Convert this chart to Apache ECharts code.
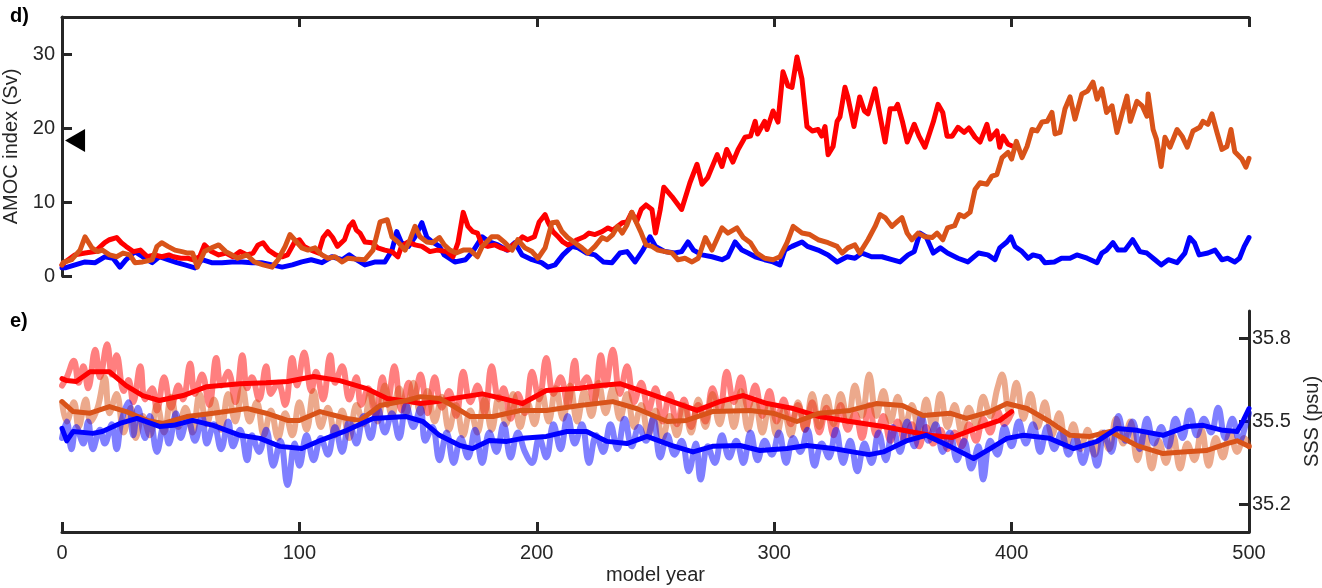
<!DOCTYPE html>
<html><head><meta charset="utf-8">
<script src="https://cdn.jsdelivr.net/npm/echarts@6/dist/echarts.min.js"></script>
<style>html,body{margin:0;padding:0;background:#fff}#c{width:1322px;height:588px}</style>
</head><body><div id="c"></div>
<script>
const xTicks = [0, 100, 200, 300, 400, 500];
const amocTicks = [0, 10, 20, 30];
const sssTicks = [35.2, 35.5, 35.8];
const amocRef = [[5.5, 18.3]];

// ---- panel d: AMOC index (Sv) ----
const amocBlue = [[0,1.1],[1.3,1.1],[5.5,1.5],[9.7,1.9],[14,1.8],[18,2.6],[21.5,2.4],[24.4,1.2],[27,2.2],[30.7,3.3],[34,2.6],[38,1.8],[41,2.6],[44.6,2.2],[48.4,1.8],[51.8,1.5],[56,1.1],[59,2.2],[63,1.8],[67.4,1.8],[71.6,1.9],[75.8,1.9],[80,1.8],[84,1.8],[88.5,1.5],[92.7,1.2],[97,1.5],[101,1.9],[105,2.2],[109.5,1.8],[113.7,2.6],[118,2.2],[121,2.85],[124,2.2],[127.6,1.5],[132,1.9],[136,1.9],[139,3.5],[141,6],[143,4.5],[146,4],[148.7,5.3],[151.6,7.2],[153.7,5.2],[156,4.6],[159,4],[161,2.85],[165.5,1.9],[170,2.2],[173,3.3],[177,5.3],[180,4.6],[183.6,4.2],[187.4,3.5],[190.8,4.5],[193.8,2.85],[198,2.2],[202,1.8],[204.7,1.2],[207.7,1.5],[211,2.85],[214.8,4],[217.4,3.8],[221,3.1],[224.5,2.85],[228,1.9],[231.7,1.8],[235,3.1],[238,3.3],[241.4,1.9],[244.7,3.5],[247.7,5.3],[250,4],[254,3.3],[258,3.1],[261,3.3],[263.7,4.6],[266,3.5],[269.6,2.85],[273.8,2.6],[278,2.2],[280.5,2.6],[283.5,4.6],[286.4,3.5],[289,3.1],[292,2.6],[296,2.2],[299.5,1.9],[302.4,1.5],[304.5,3.5],[307.5,4],[311.7,4.6],[314,4],[318.5,3.5],[322.7,2.85],[326.5,1.9],[330.7,2.6],[334,2.4],[337,3.1],[341,2.6],[345.4,2.6],[349.6,2.2],[353,1.9],[356.4,2.85],[359,3.3],[361.4,5.8],[364,5.3],[367,3.1],[370,3.8],[373,3.1],[377.4,2.4],[381.6,1.9],[386,3.1],[390,2.85],[393,2.2],[395,3.8],[398,4.6],[399.7,5.3],[401.4,4],[404.4,3.3],[407,2.4],[409,2.85],[412,2.6],[414,1.8],[418,1.9],[421,2.4],[424.6,2.4],[427.5,2.85],[431.8,2.4],[436,1.8],[438,3.1],[440,3.5],[442.7,4.5],[444.8,3.5],[447.8,3.5],[451,4.9],[454,3.3],[457,3.1],[460.4,2.2],[463,1.5],[466,2.2],[469.7,1.8],[473,3.1],[475,5.2],[477,4.5],[479,2.85],[482.7,3.1],[485.7,3.5],[488.6,2.2],[491,2.4],[494,1.9],[496,2.4],[498,4],[500,5.2]];

const amocRed = [[0,1.5],[1.3,1.9],[5.5,2.85],[9.7,3.1],[13.9,3.3],[18,4.5],[20,4.9],[23,5.2],[25,4.5],[27,4],[30,3.3],[33,3.5],[36,2.6],[39,2.85],[42,2.6],[45,2.85],[47,2.6],[50,2.4],[53,2.4],[55,2.2],[58,2.6],[60,4.2],[63,3.3],[66,2.85],[69,3.1],[72,2.6],[75,3.3],[78,2.85],[80.5,3.1],[82.6,4.2],[84.7,4.5],[87,3.5],[90,2.85],[92.7,2.6],[95,2.85],[98,4.6],[100,4.9],[102,4],[105,3.5],[108,3.1],[110,5.2],[112,6],[114,5.2],[116,4],[119,4.9],[121,6.7],[122.6,7.3],[124,6.2],[125.5,5.8],[127.6,4.6],[130.6,4.5],[133,3.8],[136,3.5],[139,3.3],[141.5,2.6],[143,4],[145.7,4.6],[148.7,4.2],[151.6,4],[155,3.3],[158,3.5],[162,3.3],[164.7,2.6],[166.8,4.5],[169,8.6],[171,6.7],[173,6],[175,5.8],[177,4.2],[179.4,4],[182.4,4.2],[185,3.8],[188,3.5],[190,4.2],[192,4.6],[194,5.3],[196,4.9],[199,5.3],[201,7.3],[203.5,8.3],[204.7,7.3],[206.8,6],[209,5.3],[211,4.6],[213,4.2],[215,4.5],[217,4.9],[220,5.3],[222,5.8],[224.5,5.6],[227.5,6],[230,6.5],[232,6.2],[234,6.7],[236,7.2],[238,7.3],[240,8.6],[242,7.3],[244,9],[246,9.6],[248.5,9],[250,5.8],[252,9],[253.5,12],[257,10.7],[261,9],[264.5,12.6],[267.5,15.1],[269.6,12.4],[272,13.3],[276,16.4],[278,14.8],[280,17.1],[282.6,15.4],[284.8,17.1],[287.7,18.75],[290,18.9],[292,20.9],[293,19.2],[296,20.9],[297,19.8],[299.5,22.3],[301.6,20.8],[303.7,27.6],[305.8,25.7],[307.5,25.5],[309.6,29.6],[311.7,26.6],[313.8,20.2],[316,19.6],[318.5,19.8],[320,18.9],[321.4,20.2],[322.7,16.4],[324.8,17.5],[326.5,20.9],[327.7,21.5],[329.8,25.5],[331,24.2],[333.6,20.2],[336,24.2],[338,22.3],[339.5,21.9],[342.5,25.3],[344.6,21.6],[346.7,18.1],[348.8,22.6],[351,22.6],[352,23.2],[354,20.9],[356,18.1],[359,20.5],[361,18.9],[363.5,17.4],[367,20.8],[369,23.2],[371,22.1],[372.8,18.9],[375,18.9],[377.4,20.1],[380,19.4],[382,20],[384.6,18.75],[386.7,18.1],[389.6,20.5],[391,18.5],[393.8,19.6],[395,17.4],[396.4,18.9],[398.5,17.8],[400,17.6]];

const amocOrange = [[0,1.5],[0.4,1.8],[4,2.2],[7.6,3.5],[9.7,5.3],[12.6,3.8],[15,3.3],[17,3.5],[20,2.85],[23,2.6],[25.7,3.1],[28.6,2.85],[30.7,1.8],[34,1.9],[38,2.2],[40,4],[42,4.5],[44.6,4],[47.6,3.5],[50.5,3.3],[53,3.1],[55,3.1],[57,1.2],[60,3.3],[63,3.8],[66,4.2],[69,3.3],[71.6,2.85],[74,2.4],[78,2.85],[81,1.9],[84.7,1.5],[88.5,1.2],[91,2.2],[94,4],[96,5.6],[98,4.9],[101,3.8],[103.6,3.5],[106.6,3.8],[109.5,2.85],[112,2.4],[115,2.6],[118,1.9],[120.5,2.4],[123.4,2.3],[127.6,2.2],[131,3.5],[134,7.3],[137,7.6],[139,5.3],[141.5,4.6],[144.5,3.5],[146.6,4.9],[148.7,6.7],[150.8,5.3],[153.7,4.6],[156,4.5],[159,5.2],[161,4.2],[163.4,3.5],[166,3.1],[169,3.5],[172,3.5],[175,2.6],[177,4],[181,5.3],[183.6,5.3],[186.6,4.5],[189.6,3.5],[192,4.9],[195,3.8],[198,3.3],[200.5,2.4],[203.5,3.8],[206.4,7.2],[208.5,7.3],[210.6,6],[213,5.2],[216,4.5],[219,3.8],[221.6,3.1],[224.5,4],[227.5,5.2],[229.6,4.9],[232,5.6],[234,6.7],[236,5.8],[238,6.9],[240,8.6],[242,7.2],[244,5.8],[246,4.2],[248.5,4],[251,3.5],[254,3.3],[257,3.1],[259.5,2.2],[262.4,2.4],[265.4,1.9],[268,2.4],[271,5.2],[273.8,3.5],[278,6.5],[280.5,5.8],[284.3,6.5],[287,5.2],[290,4.5],[292.7,3.1],[296,2.4],[299.5,2.2],[302.4,2.6],[305.4,4.5],[308,6.7],[311.7,5.8],[315,5.6],[318.5,4.9],[322.7,4.5],[326.5,4],[328.6,3.1],[331,3.8],[334,4.2],[336,3.1],[339.5,4.9],[342.5,6.7],[344.6,8.3],[346.7,7.9],[349.6,6.7],[351.7,7.3],[353.8,7.9],[356,5.8],[358,4.9],[360.6,5.8],[363.5,5.3],[366.5,5.2],[368.6,5.8],[371,4.9],[373,6.5],[376,6.8],[378,8.3],[380,8],[382.5,8.6],[384.6,11.7],[386.7,12.6],[389.6,12.4],[391.7,13.5],[393.8,13.7],[396,16],[398.5,16.7],[400,15.8],[402,18.2],[404.4,16],[406.5,17.5],[408.6,19.8],[410.7,19.6],[412.8,20.8],[415,20.9],[417,22.1],[418.3,19.2],[420.4,19.4],[422.5,22.6],[424.6,24.2],[426.7,21.2],[429.6,24.6],[432,25],[434.3,26.2],[436,23.9],[438,25.3],[440,22.1],[442.3,23],[444.4,19.4],[446.5,21.9],[448.6,24.3],[450,20.9],[452.8,23.6],[455,23],[457,21.6],[457.5,24.6],[459.6,19.8],[461,18.5],[463,14.8],[464.6,18.75],[466.7,17.4],[469.7,19.8],[471.8,18.9],[474,17.4],[476.4,19.6],[479.3,20.1],[480.6,20.9],[482.7,20.5],[484.4,21.9],[486.5,19.4],[488.6,17.1],[490.7,17.5],[492.4,19.8],[494,16.8],[497,15.8],[498.7,14.7],[500,15.9]];

// ---- panel e: SSS (psu), annual (light) ----
const sssRedRaw = [[0,35.63],[2,35.66],[5,35.72],[7,35.64],[9,35.70],[11,35.62],[14,35.76],[16,35.66],[19,35.78],[21,35.67],[23,35.74],[26,35.61],[28,35.65],[30,35.57],[33,35.70],[35,35.58],[38,35.62],[40,35.54],[43,35.66],[46,35.55],[49,35.63],[51,35.58],[54,35.71],[56,35.60],[59,35.67],[62,35.56],[65,35.73],[67,35.63],[70,35.68],[73,35.57],[76,35.74],[78,35.62],[80,35.66],[83,35.58],[86,35.70],[88,35.60],[91,35.64],[94,35.56],[97,35.73],[99,35.63],[102,35.75],[105,35.61],[107,35.68],[110,35.58],[113,35.74],[115,35.64],[118,35.70],[121,35.58],[124,35.66],[126,35.56],[129,35.62],[132,35.52],[135,35.66],[137,35.56],[140,35.70],[143,35.54],[146,35.64],[148,35.57],[151,35.67],[154,35.53],[157,35.66],[160,35.55],[163,35.61],[166,35.52],[169,35.68],[172,35.57],[175,35.63],[178,35.53],[181,35.70],[184,35.58],[186,35.62],[189,35.51],[192,35.60],[195,35.53],[198,35.68],[201,35.58],[204,35.73],[207,35.60],[210,35.66],[213,35.56],[216,35.72],[218,35.62],[221,35.66],[224,35.57],[227,35.74],[229,35.63],[232,35.76],[235,35.60],[238,35.70],[241,35.57],[244,35.64],[247,35.54],[250,35.62],[253,35.50],[256,35.60],[259,35.49],[262,35.58],[265,35.48],[268,35.56],[271,35.50],[274,35.62],[277,35.54],[280,35.68],[283,35.57],[286,35.66],[289,35.55],[292,35.63],[295,35.52],[298,35.61],[301,35.50],[304,35.58],[307,35.49],[310,35.56],[313,35.47],[316,35.57],[319,35.46],[322,35.55],[325,35.45],[328,35.56],[331,35.47],[334,35.53],[337,35.44],[340,35.56],[343,35.45],[346,35.52],[349,35.43],[352,35.50],[355,35.43],[358,35.49],[361,35.41],[364,35.48],[367,35.42],[370,35.47],[373,35.40],[376,35.46],[379,35.41],[382,35.49],[385,35.43],[388,35.51],[391,35.46],[394,35.54],[397,35.49],[400,35.53]];

const sssBlueRaw = [[0,35.44],[2,35.50],[4,35.40],[6,35.48],[9,35.42],[11,35.50],[13,35.40],[16,35.47],[18,35.42],[21,35.49],[23,35.40],[25,35.50],[28,35.57],[30,35.45],[32,35.55],[35,35.44],[37,35.52],[40,35.39],[43,35.49],[45,35.42],[48,35.53],[50,35.44],[53,35.51],[56,35.43],[59,35.52],[61,35.42],[64,35.49],[67,35.40],[70,35.50],[72,35.41],[75,35.47],[78,35.36],[80,35.45],[83,35.39],[86,35.47],[89,35.34],[92,35.43],[95,35.27],[98,35.42],[100,35.34],[103,35.45],[106,35.36],[109,35.44],[112,35.38],[115,35.48],[118,35.39],[121,35.50],[124,35.42],[127,35.52],[130,35.44],[133,35.55],[136,35.46],[139,35.53],[142,35.44],[145,35.56],[148,35.48],[151,35.55],[153,35.43],[156,35.48],[159,35.36],[162,35.46],[165,35.35],[168,35.44],[171,35.37],[174,35.47],[177,35.35],[180,35.46],[183,35.39],[186,35.49],[189,35.37],[192,35.46],[195,35.39],[198,35.35],[201,35.44],[204,35.37],[207,35.49],[210,35.40],[213,35.52],[216,35.42],[219,35.49],[222,35.35],[225,35.45],[228,35.39],[231,35.49],[234,35.40],[237,35.51],[240,35.41],[243,35.48],[246,35.43],[249,35.51],[252,35.37],[255,35.45],[258,35.38],[261,35.43],[264,35.32],[267,35.42],[269,35.29],[272,35.41],[275,35.35],[278,35.45],[281,35.37],[284,35.43],[287,35.35],[290,35.46],[293,35.36],[296,35.43],[299,35.38],[302,35.46],[305,35.35],[308,35.44],[311,35.39],[314,35.47],[317,35.34],[320,35.42],[323,35.37],[326,35.47],[329,35.35],[332,35.43],[335,35.32],[338,35.42],[341,35.35],[344,35.46],[347,35.36],[350,35.48],[353,35.39],[356,35.50],[359,35.41],[362,35.52],[365,35.43],[368,35.49],[371,35.39],[374,35.46],[377,35.36],[380,35.43],[383,35.33],[386,35.41],[388,35.29],[391,35.43],[394,35.38],[397,35.48],[400,35.41],[403,35.50],[406,35.42],[409,35.49],[412,35.39],[415,35.48],[418,35.40],[421,35.46],[424,35.38],[427,35.44],[430,35.35],[433,35.42],[436,35.34],[439,35.46],[442,35.39],[445,35.52],[448,35.43],[451,35.50],[454,35.40],[457,35.51],[460,35.42],[463,35.48],[466,35.41],[469,35.51],[472,35.44],[475,35.54],[478,35.45],[481,35.51],[484,35.46],[487,35.55],[490,35.44],[493,35.51],[496,35.43],[499,35.50],[500,35.53]];

const sssOrangeRaw = [[0,35.57],[2,35.50],[5,35.57],[7,35.48],[10,35.58],[12,35.50],[15,35.55],[18,35.66],[20,35.53],[23,35.60],[26,35.46],[29,35.55],[31,35.44],[34,35.52],[37,35.45],[40,35.56],[43,35.46],[46,35.59],[49,35.48],[52,35.55],[55,35.46],[58,35.60],[61,35.49],[64,35.58],[67,35.47],[70,35.60],[73,35.50],[76,35.62],[79,35.50],[82,35.57],[85,35.45],[88,35.54],[91,35.44],[94,35.53],[97,35.45],[100,35.57],[103,35.47],[106,35.61],[109,35.48],[112,35.55],[115,35.45],[118,35.54],[121,35.44],[124,35.56],[127,35.49],[130,35.61],[133,35.50],[136,35.63],[139,35.52],[142,35.62],[145,35.53],[148,35.64],[151,35.53],[154,35.61],[157,35.50],[160,35.59],[163,35.47],[166,35.56],[169,35.45],[172,35.54],[175,35.46],[178,35.58],[181,35.47],[184,35.59],[187,35.49],[190,35.60],[193,35.48],[196,35.57],[199,35.49],[202,35.61],[205,35.50],[208,35.62],[211,35.51],[214,35.63],[217,35.50],[220,35.61],[223,35.52],[226,35.64],[229,35.53],[232,35.62],[235,35.51],[238,35.60],[241,35.48],[244,35.56],[247,35.45],[250,35.54],[253,35.44],[256,35.52],[259,35.45],[262,35.56],[265,35.46],[268,35.58],[271,35.48],[274,35.60],[277,35.49],[280,35.58],[283,35.48],[286,35.61],[289,35.47],[292,35.57],[295,35.46],[298,35.56],[301,35.45],[304,35.54],[307,35.45],[310,35.57],[313,35.47],[316,35.60],[319,35.48],[322,35.59],[325,35.49],[328,35.60],[331,35.50],[334,35.63],[337,35.52],[340,35.67],[343,35.52],[346,35.61],[349,35.50],[352,35.59],[355,35.48],[358,35.56],[361,35.46],[364,35.58],[367,35.47],[370,35.60],[373,35.48],[376,35.56],[379,35.46],[382,35.55],[385,35.49],[388,35.59],[391,35.52],[394,35.62],[396,35.67],[399,35.53],[402,35.64],[405,35.51],[408,35.60],[411,35.48],[414,35.57],[417,35.45],[420,35.53],[423,35.41],[426,35.49],[429,35.40],[432,35.47],[435,35.38],[438,35.46],[441,35.40],[444,35.51],[447,35.42],[450,35.50],[453,35.36],[456,35.46],[459,35.33],[462,35.43],[465,35.35],[468,35.45],[471,35.33],[474,35.42],[477,35.36],[480,35.47],[483,35.34],[486,35.44],[489,35.37],[492,35.46],[495,35.39],[498,35.44],[500,35.41]];

// ---- panel e: SSS (psu), smoothed ----
const sssRedSmooth = [[0,35.655],[2,35.648],[6,35.645],[11.8,35.68],[20,35.68],[27,35.63],[34,35.594],[41,35.576],[51,35.594],[61,35.626],[75,35.637],[86,35.64],[95,35.645],[106,35.663],[117,35.648],[128,35.62],[137,35.583],[146.6,35.572],[151,35.565],[158,35.572],[164.7,35.583],[177,35.6],[185.8,35.583],[194,35.565],[204,35.612],[218,35.62],[226.6,35.63],[235,35.637],[247.7,35.6],[257,35.572],[267.5,35.54],[277,35.572],[287,35.594],[297,35.565],[308,35.547],[319,35.518],[332,35.5],[346,35.482],[357,35.464],[365.6,35.45],[375,35.442],[385,35.475],[395,35.504],[400,35.536]];
const sssOrangeSmooth = [[0,35.572],[4.7,35.536],[11.8,35.53],[20,35.554],[27,35.536],[35.7,35.504],[42.6,35.493],[52.6,35.518],[63.7,35.53],[78,35.547],[86,35.53],[95,35.504],[100,35.504],[108.7,35.536],[120,35.511],[125.5,35.504],[134,35.558],[145,35.576],[151,35.59],[159,35.583],[165,35.555],[172,35.518],[181.6,35.518],[193,35.54],[204,35.54],[218,35.558],[232,35.572],[242,35.547],[255,35.5],[263,35.504],[274,35.536],[290,35.54],[299.5,35.53],[309.6,35.5],[319,35.53],[332,35.54],[343,35.565],[354,35.558],[362.7,35.522],[374,35.53],[381,35.511],[391,35.536],[398,35.565],[406.5,35.547],[416,35.5],[424.6,35.45],[433,35.446],[441.5,35.464],[452.8,35.413],[463.8,35.384],[472,35.39],[482,35.395],[490.7,35.42],[495,35.43],[500,35.41]];
const sssBlueSmooth = [[0,35.475],[2,35.43],[4.7,35.464],[13,35.457],[17,35.464],[24.4,35.493],[31.6,35.511],[41,35.482],[47,35.486],[55,35.504],[63.7,35.486],[75,35.45],[83.4,35.439],[91.8,35.41],[101,35.402],[108.7,35.431],[120,35.468],[131,35.511],[145,35.518],[152,35.5],[159,35.45],[167.6,35.413],[173,35.402],[180,35.431],[187.4,35.428],[194,35.439],[204,35.446],[212.7,35.464],[221,35.464],[229.6,35.428],[238,35.42],[246.4,35.446],[257,35.413],[265.8,35.39],[274,35.41],[285.6,35.413],[294,35.395],[305.4,35.402],[313.8,35.413],[324.8,35.402],[333,35.39],[340,35.38],[346,35.39],[356,35.431],[364,35.45],[374,35.41],[384,35.366],[391,35.402],[398,35.439],[405,35.45],[416,35.439],[426,35.402],[436,35.428],[444.4,35.475],[452.8,35.468],[463.8,35.45],[474,35.482],[480.6,35.486],[489,35.468],[495,35.464],[497.6,35.504],[500,35.547]];

const C_BLUE = '#0000ff', C_RED = '#ff0000', C_ORANGE = '#d95319', AX = '#262626';
const FONT = '"Liberation Sans", Arial, Helvetica, sans-serif';

const chart = echarts.init(document.getElementById('c'), null, {renderer: 'canvas'});
const axLine = {show: true, onZero: false, lineStyle: {color: AX, width: 3}};
const tick = extra => Object.assign({show: true, inside: true, length: 10, lineStyle: {color: AX, width: 3}}, extra || {});
const lineS = (name, data, color, xi, yi, w, op, z, smooth) => ({
  name, type: 'line', data, xAxisIndex: xi, yAxisIndex: yi, showSymbol: false, smooth: smooth || false,
  lineStyle: {color, width: w, opacity: op, join: 'round', cap: 'round'}, itemStyle: {color},
  z, silent: true, animation: false
});

chart.setOption({
  animation: false,
  textStyle: {fontFamily: FONT},
  graphic: [
    {type: 'text', left: 10, top: 6, style: {text: 'd)', font: 'bold 20px ' + FONT, fill: '#000'}},
    {type: 'text', left: 10, top: 311, style: {text: 'e)', font: 'bold 20px ' + FONT, fill: '#000'}}
  ],
  grid: [
    {left: 62, right: 73, top: 17, height: 259, outerBoundsMode: 'none', containLabel: false},
    {left: 62, right: 73, top: 311, height: 221, outerBoundsMode: 'none', containLabel: false}
  ],
  xAxis: [
    {gridIndex: 0, type: 'value', position: 'top', min: 0, max: 500, interval: 100,
     axisLine: axLine, axisTick: tick(), axisLabel: {show: false}, splitLine: {show: false}},
    {gridIndex: 1, type: 'value', position: 'bottom', min: 0, max: 500, interval: 100,
     axisLine: axLine, axisTick: tick(),
     axisLabel: {show: true, color: AX, fontSize: 20, margin: 11, fontFamily: FONT},
     splitLine: {show: false},
     name: 'model year', nameLocation: 'middle', nameGap: 33,
     nameTextStyle: {color: AX, fontSize: 20, fontFamily: FONT}}
  ],
  yAxis: [
    {gridIndex: 0, type: 'value', position: 'left', min: 0, max: 35,
     axisLine: axLine, axisTick: tick({customValues: amocTicks}),
     axisLabel: {show: true, color: AX, fontSize: 20, margin: 7, fontFamily: FONT, customValues: amocTicks},
     splitLine: {show: false},
     name: 'AMOC index (Sv)', nameLocation: 'middle', nameGap: 34, nameRotate: 90,
     nameTextStyle: {color: AX, fontSize: 20, fontFamily: FONT}},
    {gridIndex: 1, type: 'value', position: 'right', min: 35.1, max: 35.9,
     axisLine: axLine, axisTick: tick({customValues: sssTicks}),
     axisLabel: {show: true, color: AX, fontSize: 20, margin: 3, fontFamily: FONT, customValues: sssTicks,
       formatter: v => v.toFixed(1)},
     splitLine: {show: false},
     name: 'SSS (psu)', nameLocation: 'middle', nameGap: 53, nameRotate: 90,
     nameTextStyle: {color: AX, fontSize: 20, fontFamily: FONT}}
  ],
  series: [
    lineS('AMOC blue', amocBlue, C_BLUE, 0, 0, 5, 1, 2),
    lineS('AMOC red', amocRed, C_RED, 0, 0, 5, 1, 3),
    lineS('AMOC orange', amocOrange, C_ORANGE, 0, 0, 5, 1, 4),
    {type: 'scatter', xAxisIndex: 0, yAxisIndex: 0, data: amocRef, symbol: 'triangle',
     symbolSize: [23, 20], symbolRotate: 90, itemStyle: {color: '#000', opacity: 1}, clip: false, z: 10, silent: true},
    lineS('SSS red raw', sssRedRaw, C_RED, 1, 1, 6, 0.5, 1, 0.4),
    lineS('SSS orange raw', sssOrangeRaw, C_ORANGE, 1, 1, 6, 0.5, 1, 0.4),
    lineS('SSS blue raw', sssBlueRaw, C_BLUE, 1, 1, 6, 0.5, 1, 0.4),
    lineS('SSS red smooth', sssRedSmooth, C_RED, 1, 1, 5, 1, 6),
    lineS('SSS orange smooth', sssOrangeSmooth, C_ORANGE, 1, 1, 5, 1, 7),
    lineS('SSS blue smooth', sssBlueSmooth, C_BLUE, 1, 1, 5, 1, 8)
  ]
});
</script></body></html>
